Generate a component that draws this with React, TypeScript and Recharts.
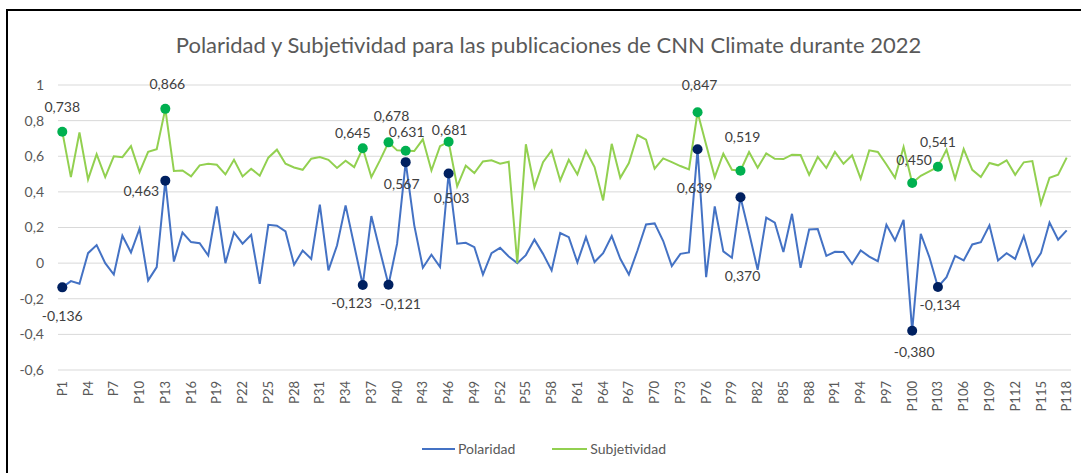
import { LineChart, Line, XAxis, YAxis, CartesianGrid } from "recharts";

const categorias = Array.from({ length: 118 }, (_, i) => `P${i + 1}`);

const polaridad = [
  -0.136, -0.101, -0.116, 0.056, 0.101, 0.0, -0.064, 0.154, 0.06, 0.193,
  -0.097, -0.022, 0.463, 0.009, 0.172, 0.118, 0.112, 0.043, 0.318, 0.0,
  0.172, 0.109, 0.159, -0.116, 0.215, 0.21, 0.178, -0.009, 0.071, 0.024,
  0.328, -0.041, 0.099, 0.324, 0.1, -0.123, 0.264, 0.07, -0.121, 0.109,
  0.567, 0.212, -0.026, 0.047, -0.022, 0.503, 0.109, 0.114, 0.09, -0.064,
  0.056, 0.086, 0.037, 0.0, 0.045, 0.132, 0.052, -0.041, 0.169, 0.146,
  0.004, 0.146, 0.006, 0.056, 0.152, 0.024, -0.064, 0.071, 0.217, 0.223,
  0.124, -0.017, 0.052, 0.06, 0.639, -0.079, 0.318, 0.066, 0.03, 0.37,
  0.17, -0.037, 0.255, 0.227, 0.062, 0.277, -0.026, 0.189, 0.191, 0.041,
  0.064, 0.062, -0.005, 0.071, 0.037, 0.011, 0.215, 0.127, 0.243, -0.38,
  0.165, 0.034, -0.134, -0.079, 0.041, 0.015, 0.105, 0.118, 0.212, 0.015,
  0.056, 0.024, 0.152, -0.015, 0.056, 0.228, 0.131, 0.184,
];

const subjetividad = [
  0.738, 0.483, 0.734, 0.47, 0.612, 0.483, 0.6, 0.595, 0.657, 0.511,
  0.625, 0.64, 0.866, 0.517, 0.52, 0.487, 0.549, 0.558, 0.552, 0.498,
  0.58, 0.487, 0.53, 0.491, 0.592, 0.637, 0.558, 0.537, 0.524, 0.586,
  0.595, 0.58, 0.534, 0.575, 0.539, 0.645, 0.483, 0.577, 0.678, 0.633,
  0.631, 0.629, 0.695, 0.52, 0.657, 0.681, 0.431, 0.547, 0.506, 0.571,
  0.577, 0.558, 0.569, 0.0, 0.667, 0.427, 0.567, 0.633, 0.464, 0.58,
  0.498, 0.631, 0.539, 0.352, 0.67, 0.479, 0.562, 0.719, 0.693, 0.53,
  0.588, 0.567, 0.545, 0.526, 0.847, 0.665, 0.483, 0.614, 0.524, 0.519,
  0.624, 0.536, 0.616, 0.586, 0.584, 0.609, 0.607, 0.496, 0.596, 0.534,
  0.624, 0.558, 0.605, 0.474, 0.633, 0.624, 0.554, 0.479, 0.652, 0.45,
  0.49, 0.515, 0.541, 0.637, 0.474, 0.64, 0.524, 0.483, 0.562, 0.549,
  0.577, 0.496, 0.566, 0.573, 0.333, 0.479, 0.496, 0.592,
];

const yTicks = [-0.6, -0.4, -0.2, 0, 0.2, 0.4, 0.6, 0.8, 1];

// puntos destacados con etiqueta
const marcados = ["P1", "P13", "P36", "P39", "P41", "P46", "P75", "P80", "P100", "P103"];

// desplazamiento de cada etiqueta respecto al punto [dx, dy]
const offsetPolaridad: Record<string, [number, number]> = {
  P1: [0, 28],
  P13: [-24, 10],
  P36: [-11, 17],
  P39: [12, 19],
  P41: [-4, 21],
  P46: [3, 24],
  P75: [-3, 38],
  P80: [2, 78],
  P100: [2, 21],
  P103: [2, 18],
};
const offsetSubjetividad: Record<string, [number, number]> = {
  P1: [0, -25],
  P13: [2, -25],
  P36: [-10, -16],
  P39: [3, -27],
  P41: [1, -19],
  P46: [1, -12],
  P75: [2, -28],
  P80: [2, -34],
  P100: [2, -23],
  P103: [0, -25],
};

const data = categorias.map((name, i) => ({
  name,
  polaridad: polaridad[i],
  subjetividad: subjetividad[i],
}));

const FONT = "Lato, 'Open Sans', sans-serif";
const AZUL = "#4472C4";
const VERDE = "#92D050";

const fmt = (v: number) =>
  (Number.isInteger(v) ? String(v) : String(+v.toFixed(3))).replace(".", ",");

function makeDot(color: string, offsets: Record<string, [number, number]>) {
  return (props: any) => {
    const { cx, cy, payload, index, value } = props;
    if (!marcados.includes(payload.name)) return <g key={`d-${index}`} />;
    const [dx, dy] = offsets[payload.name];
    return (
      <g key={`d-${index}`}>
        <circle cx={cx} cy={cy} r={5} fill={color} />
        <text
          x={cx + dx}
          y={cy + dy}
          textAnchor="middle"
          dominantBaseline="central"
          fontSize={14}
          fontFamily={FONT}
          fill="#404040"
        >
          {Number(value).toFixed(3).replace(".", ",")}
        </text>
      </g>
    );
  };
}

function XTick(props: any) {
  const { x, y, payload } = props;
  return (
    <text
      transform={`translate(${x},${y}) rotate(-90)`}
      textAnchor="end"
      dy="0.35em"
      fontSize={13}
      fontFamily={FONT}
      fill="#595959"
    >
      {payload.value}
    </text>
  );
}

export default function App() {
  return (
    <div
      style={{
        position: "absolute",
        left: 0,
        top: 0,
        width: 1081,
        height: 473,
        overflow: "hidden",
        background: "#fff",
        fontFamily: FONT,
      }}
    >
      <div
        style={{
          position: "absolute",
          left: 6,
          top: 9,
          width: 1075,
          height: 464,
          borderTop: "2px solid #000",
          borderLeft: "2px solid #000",
          boxSizing: "border-box",
        }}
      />
      <div
        style={{
          position: "absolute",
          left: 0,
          top: 30,
          width: 1097,
          textAlign: "center",
          fontSize: 22,
          color: "#595959",
          lineHeight: "30px",
        }}
      >
        Polaridad y Subjetividad para las publicaciones de CNN Climate durante 2022
      </div>
      <div style={{ position: "absolute", left: 0, top: 0 }}>
        <LineChart
          width={1081}
          height={473}
          data={data}
          margin={{ top: 85, right: 10, bottom: 43, left: 18 }}
        >
          <CartesianGrid vertical={false} stroke="#d9d9d9" strokeWidth={1} />
          <XAxis
            dataKey="name"
            interval={2}
            axisLine={false}
            tickLine={false}
            height={60}
            tickMargin={5}
            padding={{ left: 4.3, right: 4.3 }}
            tick={<XTick />}
          />
          <YAxis
            domain={[-0.6, 1]}
            ticks={yTicks}
            width={40}
            axisLine={false}
            tickLine={false}
            tickMargin={8}
            tickFormatter={fmt}
            tick={{ fontSize: 14, fontFamily: FONT, fill: "#595959" }}
          />
          <Line
            type="linear"
            dataKey="polaridad"
            stroke={AZUL}
            strokeWidth={2}
            dot={makeDot("#002060", offsetPolaridad)}
            activeDot={false}
            isAnimationActive={false}
          />
          <Line
            type="linear"
            dataKey="subjetividad"
            stroke={VERDE}
            strokeWidth={2}
            dot={makeDot("#00B050", offsetSubjetividad)}
            activeDot={false}
            isAnimationActive={false}
          />
        </LineChart>
      </div>
      <div
        style={{
          position: "absolute",
          top: 440,
          left: 422,
          display: "flex",
          alignItems: "center",
          fontSize: 14,
          color: "#595959",
          lineHeight: "18px",
        }}
      >
        <span style={{ display: "inline-block", width: 33, height: 2, background: AZUL }} />
        <span style={{ marginLeft: 3 }}>Polaridad</span>
        <span
          style={{ display: "inline-block", width: 35, height: 2, background: VERDE, marginLeft: 37 }}
        />
        <span style={{ marginLeft: 3 }}>Subjetividad</span>
      </div>
    </div>
  );
}
